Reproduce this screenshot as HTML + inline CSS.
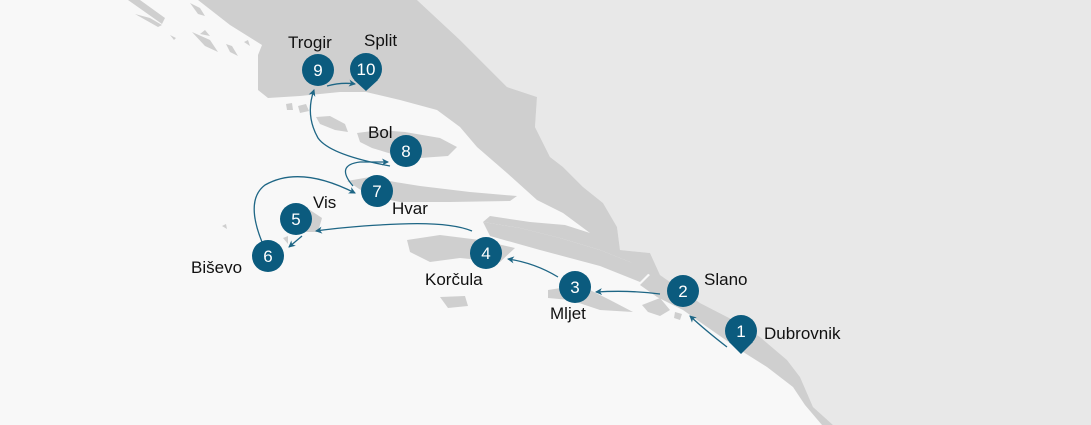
<!DOCTYPE html>
<html><head><meta charset="utf-8"><style>
html,body{margin:0;padding:0;width:1091px;height:425px;overflow:hidden;background:#f8f8f8}
svg{display:block}
text{font-family:"Liberation Sans",sans-serif}
</style></head><body>
<svg width="1091" height="425" viewBox="0 0 1091 425" xmlns="http://www.w3.org/2000/svg">
<defs>
<marker id="ah" markerWidth="8" markerHeight="8" refX="6" refY="4" orient="auto" markerUnits="userSpaceOnUse">
<path d="M0,0.5 L7,4 L0,7.5 L2,4 Z" fill="#1e6685"/>
</marker>
</defs>
<rect width="1091" height="425" fill="#f8f8f8"/>
<!-- inland light land -->
<path d="M417,0 L1091,0 L1091,425 L833,425 L813,407 L800,377 L787,360 L760,337 L733,320 L700,303 L660,275 L650,253 L620,250 L617,227 L603,203 L583,187 L563,167 L550,157 L535,127 L537,97 L507,87 L460,40 Z" fill="#e8e8e8"/>
<!-- mainland croatia dark -->
<path d="M198,0 L417,0 L460,40 L507,87 L537,97 L535,127 L550,157 L563,167 L583,187 L603,203 L617,227 L620,250 L650,253 L660,275 L700,303 L733,320 L760,337 L787,360 L800,377 L813,407 L833,425 L822,425 L805,405 L793,387 L767,367 L740,350 L700,322 L683,310 L657,297 L640,285 L650,275 L630,262 L600,250 L560,238 L520,228 L483,222 L490,216 L530,222 L565,225 L590,233 L563,213 L537,200 L507,173 L477,147 L460,127 L437,110 L400,100 L366,92 L340,92 L300,96 L268,98 L258,90 L258,55 L262,45 L230,25 Z" fill="#cfcfcf"/>
<!-- islands -->
<g fill="#cfcfcf">
<path d="M128,0 L140,0 L165,18 L162,24 Z"/>
<path d="M135,14 L150,18 L162,25 L158,27 Z"/>
<path d="M190,3 L200,8 L205,16 L198,14 Z"/>
<path d="M192,32 L210,40 L218,52 L205,46 Z"/>
<path d="M200,34 L205,30 L210,36 Z"/>
<path d="M170,35 L176,38 L174,40 Z"/>
<path d="M226,44 L232,46 L238,56 L230,52 Z"/>
<path d="M244,42 L248,40 L250,46 Z"/>
<path d="M286,104 L292,103 L293,110 L287,110 Z"/>
<path d="M298,106 L306,104 L309,111 L300,113 Z"/>
<path d="M316,117 L330,116 L345,124 L348,132 L335,130 L320,124 Z"/>
<path d="M357,133 L380,130 L405,132 L440,138 L457,147 L448,156 L420,158 L395,155 L372,148 L360,142 Z"/>
<path d="M347,181 L370,177 L395,182 L420,186 L470,192 L517,196 L510,201 L450,202 L400,202 L370,196 Z"/>
<path d="M290,213 L310,210 L322,218 L318,232 L300,232 L292,222 Z"/>
<path d="M407,240 L440,235 L480,240 L515,248 L500,262 L460,258 L430,262 L410,252 Z"/>
<path d="M483,222 L520,228 L560,238 L600,250 L630,262 L650,272 L640,282 L600,266 L540,250 L490,236 Z"/>
<path d="M548,290 L580,285 L610,300 L633,312 L600,310 L570,300 L548,298 Z"/>
<path d="M440,297 L465,296 L468,306 L448,308 Z"/>
<path d="M283,238 L288,236 L288,244 Z"/>
<path d="M222,226 L226,224 L227,229 Z"/>
<path d="M642,305 L660,298 L670,310 L660,316 L648,312 Z"/>
<path d="M675,312 L682,314 L680,320 L674,318 Z"/>
</g>
<!-- routes -->
<g fill="none" stroke="#1e6685" stroke-width="1.3" marker-end="url(#ah)">
<path d="M727,347 Q705,330 690,316"/>
<path d="M660,294 Q630,290 596,292"/>
<path d="M558,277 Q535,263 508,259"/>
<path d="M472,231 Q450,222 400,224 Q350,226 316,231"/>
<path d="M302,236 L289,247"/>
<path d="M262,242 Q245,200 265,185 Q300,165 355,193"/>
<path d="M353,186 Q335,165 360,162 L388,162"/>
<path d="M390,166 Q330,155 318,138 Q305,115 314,90"/>
<path d="M327,86 Q342,82 355,84"/>
</g>
<!-- pins -->
<g fill="#0b5b7e">
<circle cx="741" cy="331" r="16"/><path d="M729,342 L741,354 L753,342 Z"/>
<circle cx="683" cy="291" r="16"/>
<circle cx="575" cy="287" r="16"/>
<circle cx="486" cy="253" r="16"/>
<circle cx="296" cy="219" r="16"/>
<circle cx="268" cy="256" r="16"/>
<circle cx="377" cy="191" r="16"/>
<circle cx="406" cy="151" r="16"/>
<circle cx="318" cy="70" r="16"/>
<circle cx="366" cy="69" r="16"/><path d="M354,80 L366,91 L378,80 Z"/>
</g>
<g fill="#fff" font-size="17" text-anchor="middle">
<text x="741" y="337">1</text>
<text x="683" y="297">2</text>
<text x="575" y="293">3</text>
<text x="486" y="259">4</text>
<text x="296" y="225">5</text>
<text x="268" y="262">6</text>
<text x="377" y="197">7</text>
<text x="406" y="157">8</text>
<text x="318" y="76">9</text>
<text x="366" y="75">10</text>
</g>
<g fill="#111" font-size="17">
<text x="288" y="48">Trogir</text>
<text x="364" y="46">Split</text>
<text x="368" y="138">Bol</text>
<text x="392" y="214">Hvar</text>
<text x="313" y="208">Vis</text>
<text x="191" y="273">Biševo</text>
<text x="425" y="285">Korčula</text>
<text x="550" y="319">Mljet</text>
<text x="704" y="285">Slano</text>
<text x="764" y="339">Dubrovnik</text>
</g>
</svg>
</body></html>
